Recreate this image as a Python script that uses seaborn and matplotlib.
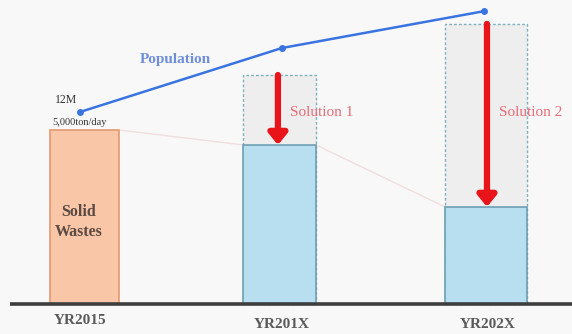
import matplotlib
matplotlib.use("Agg")
import matplotlib.pyplot as plt
import seaborn as sns
import pandas as pd
import numpy as np

# Data
years = ["YR2015", "YR201X", "YR202X"]
waste_treated = [5000, 4570, 2790]        # ton/day after solutions
waste_projected = [5000, 6580, 8050]      # ton/day without solutions
population = [12.0, 16.0, 18.3]           # millions
solutions = ["", "Solution 1", "Solution 2"]

sns.set_theme(style="white")
plt.rcParams["font.family"] = ["Liberation Serif", "DejaVu Serif"]

fig = plt.figure(figsize=(5.72, 3.34), dpi=100)
fig.patch.set_facecolor("#f8f8f8")
ax = fig.add_axes([0, 0, 1, 1])
ax.set_facecolor("#f8f8f8")

xpos = np.arange(len(years))
ax.set_xlim(-0.406, 2.426)
ton_per_px = 5000 / 174
ax.set_ylim(-30 * ton_per_px, 304 * ton_per_px)

# slight perspective: bars get wider towards the right
bar_centers = [0.012, 0.978, 2.0]
bar_widths = [0.342, 0.361, 0.406]
bar_colors = ["#f9c6a7", "#b8dff0", "#b8dff0"]
edge_colors = ["#e39a72", "#6f9fb2", "#6f9fb2"]


def place(patch, i):
    patch.set_x(bar_centers[i] - bar_widths[i] / 2)
    patch.set_width(bar_widths[i])


# projected (grey dashed) boxes for future years
df_proj = pd.DataFrame({"x": xpos, "v": waste_projected})
sns.barplot(data=df_proj, x="x", y="v", native_scale=True, width=0.37,
            color="#efefef", ax=ax, zorder=1)
for i, p in enumerate(ax.patches):
    place(p, i)
    if i == 0:
        p.set_visible(False)
    else:
        p.set_facecolor("#eeeeee")
        p.set_edgecolor("#7fb0bf")
        p.set_linestyle((0, (2, 1.5)))
        p.set_linewidth(1.0)
n_proj = len(ax.patches)

# actual waste bars
df_act = pd.DataFrame({"x": xpos, "v": waste_treated})
sns.barplot(data=df_act, x="x", y="v", native_scale=True, width=0.37,
            color="#b8dff0", ax=ax, zorder=2)
for i, p in enumerate(ax.patches[n_proj:]):
    place(p, i)
    p.set_facecolor(bar_colors[i])
    p.set_edgecolor(edge_colors[i])
    p.set_linewidth(1.2)

# faint trend connecting bar tops
for i in range(len(xpos) - 1):
    ax.plot([bar_centers[i] + bar_widths[i] / 2, bar_centers[i + 1] - bar_widths[i + 1] / 2],
            [waste_treated[i], waste_treated[i + 1]],
            color="#f2dede", lw=1.0, zorder=0.5)

# reduction arrows
arrow_x = [0, 0.97, 2.005]
label_dx = [0, 0.06, 0.06]
label_dy = [0, -60, 70]
for i in range(1, len(xpos)):
    ax.annotate("", xy=(arrow_x[i], waste_treated[i]),
                xytext=(arrow_x[i], waste_projected[i]),
                arrowprops=dict(arrowstyle="-|>,head_width=0.45,head_length=0.55",
                                color="#e8141a", lw=4.5, shrinkA=0, shrinkB=0),
                zorder=4)
    ax.text(arrow_x[i] + label_dx[i], (waste_projected[i] + waste_treated[i]) / 2 + label_dy[i],
            solutions[i], color="#e86b78", fontsize=11, va="center", ha="left", zorder=5)

# baseline
ax.plot([-0.356, 2.426], [0, 0], color="#3e3e3e", lw=2.6, zorder=3,
        solid_capstyle="butt")

# category labels
label_x = [-0.01, 0.99, 2.01]
label_px = [17, 20, 20]
for i, lab in enumerate(years):
    ax.text(label_x[i], -label_px[i] * ton_per_px,
            lab, ha="center", va="center", fontsize=11, fontweight="bold", color="#5a5a5a")

# bar annotations
ax.text(bar_centers[0] - 0.03, 2360, "Solid\nWastes", ha="center", va="center", fontsize=11.5,
        fontweight="bold", color="#5a4a42", linespacing=1.35)
ax.text(-0.148, 5000 + 8 * ton_per_px, "5,000ton/day", ha="left", va="center",
        fontsize=7.5, color="#333333")

# population on its own scale
ax2 = ax.twinx()
pop_per_px = 12.0 / 192
ax2.set_ylim(-30 * pop_per_px, 304 * pop_per_px)
ax2.set_xlim(ax.get_xlim())
sns.lineplot(x=xpos - 0.01, y=population, ax=ax2, color="#3a74e0", lw=1.8,
             marker="o", markersize=5, markeredgewidth=0)
ax2.text(-0.135, population[0] + 12 * pop_per_px, "12M", ha="left", va="center",
         fontsize=8.5, color="#333333")
ax2.text(0.287, population[0] + 52 * pop_per_px, "Population", ha="left", va="center",
         fontsize=11, fontweight="bold", color="#6f8fdc")

for a in (ax, ax2):
    a.set_axis_off()

fig.savefig("out.png", dpi=100, facecolor=fig.get_facecolor())
